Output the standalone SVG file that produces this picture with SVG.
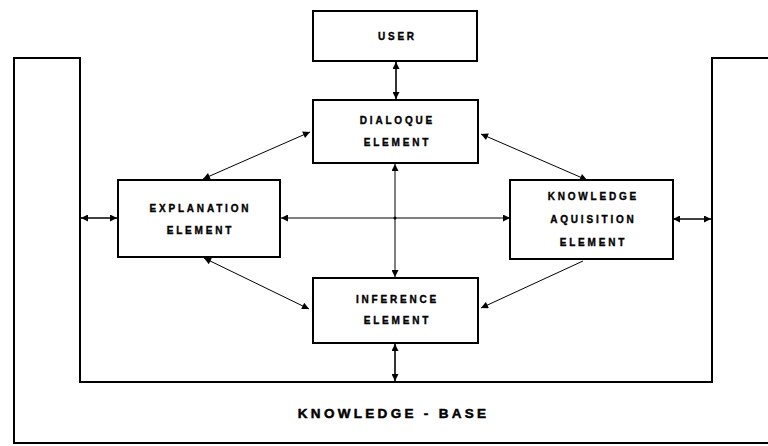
<svg xmlns="http://www.w3.org/2000/svg" width="768" height="446" viewBox="0 0 768 446">
<style>
.box{fill:#fff;stroke:#000;stroke-width:2}
.kb{fill:none;stroke:#000;stroke-width:2}
.c{fill:none;stroke:#000;stroke-width:1}
.cb{fill:none;stroke:#000;stroke-width:1.6}
text{font-family:"Liberation Sans",Arial,sans-serif;font-weight:bold;fill:#000;stroke:#000;stroke-width:0.35;text-anchor:middle}
.t{font-size:10px;letter-spacing:2.8px}
.big{font-size:13.5px;letter-spacing:3.3px;stroke-width:0.5}
</style>
<defs>
<marker id="ah" viewBox="0 0 10 10" refX="10" refY="5" markerWidth="10" markerHeight="7" markerUnits="userSpaceOnUse" orient="auto-start-reverse">
<path d="M0,0 L10,5 L0,10 z" fill="#000"/>
</marker>
</defs>
<rect width="768" height="446" fill="#fff"/>
<g id="knowledge-base">
<path class="kb" d="M770,58 H712 V382 H80 V58 H14 V443 H770"/>
<text class="big" x="393.6" y="418">KNOWLEDGE - BASE</text>
</g>
<g id="connectors">
<line class="cb" x1="396" y1="62" x2="396" y2="99" marker-start="url(#ah)" marker-end="url(#ah)"/>
<line class="c" x1="395" y1="164" x2="395" y2="277" marker-start="url(#ah)" marker-end="url(#ah)"/>
<line class="c" x1="281" y1="218" x2="510" y2="218" marker-start="url(#ah)" marker-end="url(#ah)"/>
<circle cx="395" cy="218" r="1.5" fill="#000"/>
<line class="c" x1="310" y1="132" x2="203" y2="179" marker-start="url(#ah)" marker-end="url(#ah)"/>
<line class="c" x1="481" y1="134" x2="587" y2="180" marker-start="url(#ah)" marker-end="url(#ah)"/>
<line class="c" x1="204" y1="258" x2="309" y2="309" marker-start="url(#ah)" marker-end="url(#ah)"/>
<line class="c" x1="583" y1="261" x2="481" y2="308" marker-end="url(#ah)"/>
<line class="cb" x1="81" y1="218" x2="117" y2="218" marker-start="url(#ah)" marker-end="url(#ah)"/>
<line class="cb" x1="673" y1="219" x2="711" y2="219" marker-start="url(#ah)" marker-end="url(#ah)"/>
<line class="cb" x1="395" y1="344" x2="395" y2="381" marker-start="url(#ah)" marker-end="url(#ah)"/>
</g>
<g id="user">
<rect class="box" x="313" y="11" width="164" height="50"/>
<text class="t" x="397.4" y="40">USER</text>
</g>
<g id="dialogue">
<rect class="box" x="313" y="100" width="165" height="63"/>
<text class="t" x="397.4" y="124">DIALOQUE</text>
<text class="t" x="397.4" y="146">ELEMENT</text>
</g>
<g id="explanation">
<rect class="box" x="118" y="180" width="162" height="77"/>
<text class="t" x="200.4" y="212">EXPLANATION</text>
<text class="t" x="200.4" y="234">ELEMENT</text>
</g>
<g id="knowledge-aquisition">
<rect class="box" x="510" y="180" width="163" height="79"/>
<text class="t" x="593.4" y="200">KNOWLEDGE</text>
<text class="t" x="593.4" y="223">AQUISITION</text>
<text class="t" x="593.4" y="246">ELEMENT</text>
</g>
<g id="inference">
<rect class="box" x="313" y="278" width="165" height="65"/>
<text class="t" x="397.4" y="303">INFERENCE</text>
<text class="t" x="397.4" y="324">ELEMENT</text>
</g>
</svg>
